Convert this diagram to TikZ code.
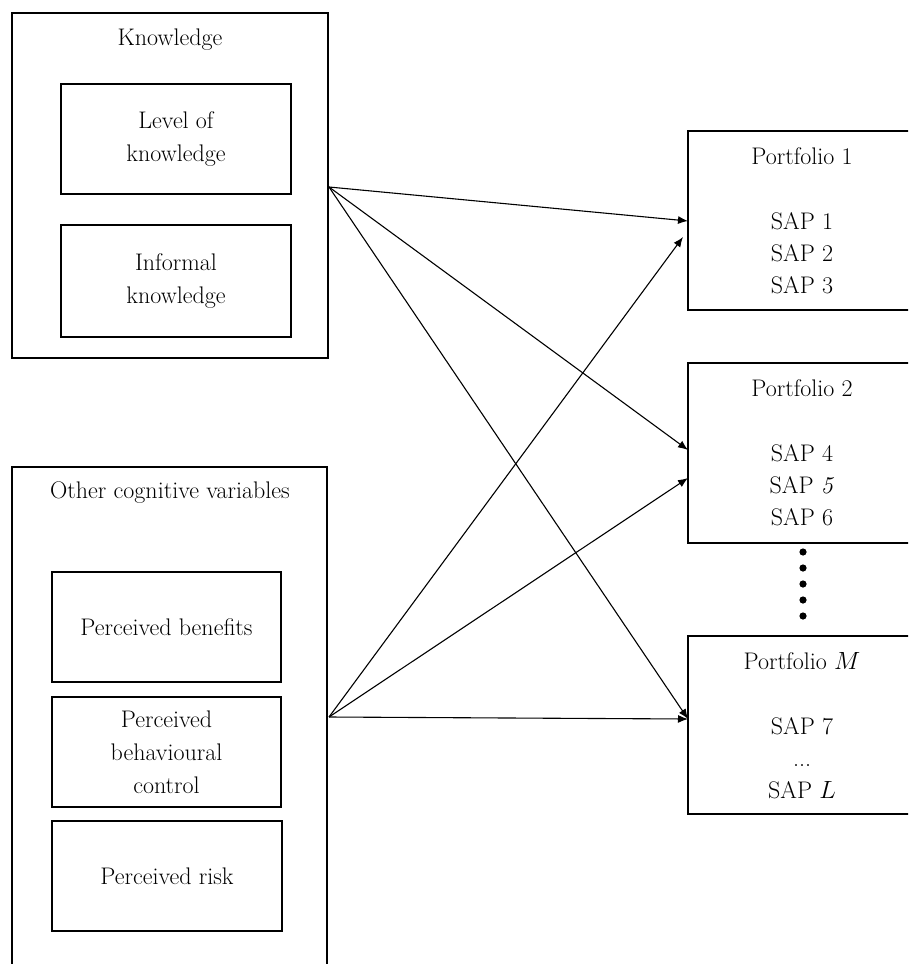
\documentclass[tikz,border=0pt]{standalone}
\usetikzlibrary{arrows.meta}
\begin{document}
\begin{tikzpicture}[x=1pt,y=-1pt,
  txt/.style={font=\fontsize{24}{33}\selectfont, align=center, inner sep=0pt},
  outerbox/.style={draw, line width=1.6pt, inner sep=0pt, outer sep=0pt},
  innerbox/.style={draw, line width=2pt, inner sep=0pt, outer sep=0pt, txt},
  rbox/.style={draw, line width=2pt, inner sep=0pt, outer sep=0pt, minimum width=228pt},
  conn/.style={line width=1.1pt, -{Latex[length=10pt,width=8pt]}},
  dotmark/.style={fill=black}]
\clip (0,0) rectangle (908,964);
\fill[white] (0,0) rectangle (908,964);

% Left: Knowledge
\node[outerbox, minimum width=316pt, minimum height=345pt] (K) at (170,185.5) {};
\node[txt, anchor=base] (Kt) at (170,45) {Knowledge};
\node[innerbox, minimum width=230pt, minimum height=110pt] (LK) at (176,139) {Level of\\knowledge};
\node[innerbox, minimum width=230pt, minimum height=112pt] (IK) at (176,281) {Informal\\knowledge};

% Left: Other cognitive variables
\node[outerbox, minimum width=315pt, minimum height=520pt] (O) at (169.5,727) {};
\node[txt, anchor=base] (Ot) at (170,498) {Other cognitive variables};
\node[innerbox, minimum width=229pt, minimum height=110pt] (PB) at (166.5,627) {Perceived benefits};
\node[innerbox, minimum width=229pt, minimum height=110pt] (PBC) at (166.5,752) {Perceived\\behavioural\\control};
\node[innerbox, minimum width=230pt, minimum height=110pt] (PR) at (167,876) {Perceived risk};

% Right: portfolios
\node[rbox, minimum height=179pt] (P1) at (802,220.5) {};
\node[txt, anchor=base] (P1t) at (802,164) {Portfolio 1};
\node[txt, anchor=base] (P1a) at (802,229) {SAP 1};
\node[txt, anchor=base] (P1b) at (802,261) {SAP 2};
\node[txt, anchor=base] (P1c) at (802,293) {SAP 3};

\node[rbox, minimum height=180pt] (P2) at (802,453) {};
\node[txt, anchor=base] (P2t) at (802,396) {Portfolio 2};
\node[txt, anchor=base] (P2a) at (802,461) {SAP 4};
\node[txt, anchor=base] (P2b) at (802,493) {SAP \textit{5}};
\node[txt, anchor=base] (P2c) at (802,525) {SAP 6};

\node[rbox, minimum height=178pt] (PM) at (802,725) {};
\node[txt, anchor=base] (PMt) at (802,669) {Portfolio $M$};
\node[txt, anchor=base] (PMa) at (802,734) {SAP 7};
\node[txt, anchor=base] (PMb) at (802,766) {...};
\node[txt, anchor=base] (PMc) at (802,798) {SAP $L$};

% vertical dots
\foreach \yy in {552,568,584,600,616} \fill[dotmark] (803,\yy) circle (3.6pt);

% connector end points
\coordinate (ks) at (329,187);
\coordinate (os) at (329,717);
\coordinate (p1in) at (688,221);
\coordinate (p1in2) at (683,237);
\coordinate (p2in) at (688,450);
\coordinate (p2in2) at (688,478);
\coordinate (pmin) at (688,719);

\draw[conn] (ks) -- (p1in);
\draw[conn] (ks) -- (p2in);
\draw[conn] (ks) -- (pmin);
\draw[conn] (os) -- (p1in2);
\draw[conn] (os) -- (p2in2);
\draw[conn] (os) -- (pmin);
\end{tikzpicture}
\end{document}
